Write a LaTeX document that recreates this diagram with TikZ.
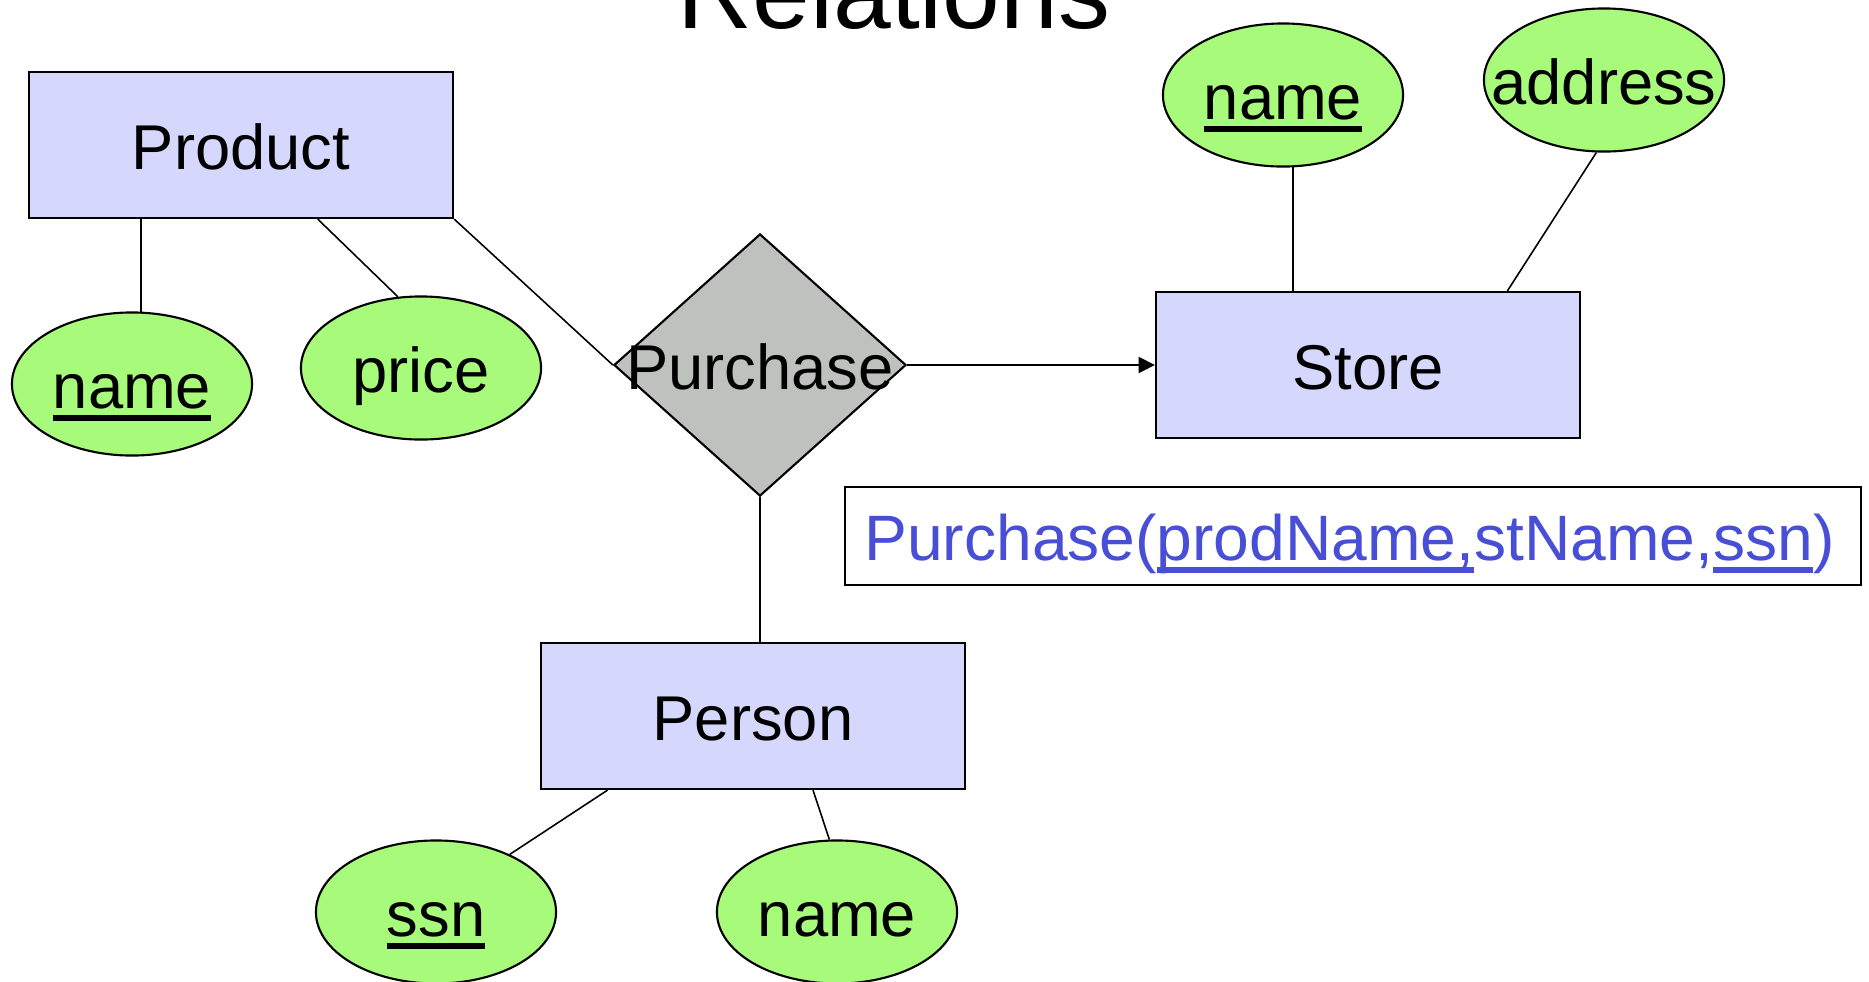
\documentclass[tikz,border=0pt]{standalone}
\usepackage{fontspec}
\setmainfont{Liberation Sans}
\usepackage{tikz}
\usetikzlibrary{shapes.geometric}
\usetikzlibrary{arrows.meta}
\definecolor{entfill}{RGB}{213,215,253}
\definecolor{attrfill}{RGB}{168,250,122}
\definecolor{relfill}{RGB}{191,193,191}
\definecolor{keyblue}{RGB}{72,78,214}
\newsavebox{\keybox}
\newcommand{\keyul}[1]{\sbox{\keybox}{#1}\rlap{\rule[-3.6pt]{\wd\keybox}{1.7pt}}\usebox{\keybox}}
\tikzset{
  big text/.style={font=\fontsize{18}{21}\selectfont,text height=14pt,text depth=0pt},
  entity node/.style={rectangle,draw,fill=entfill,line width=0.6pt,inner sep=0pt,
    minimum width=4.24cm,minimum height=1.46cm,big text},
  attr node/.style={ellipse,draw,fill=attrfill,line width=0.6pt,inner sep=0pt,
    minimum width=2.4cm,minimum height=1.43cm,big text},
  rel node/.style={diamond,draw,fill=relfill,line width=0.6pt,inner sep=0pt,
    minimum width=2.92cm,minimum height=2.62cm},
  schema/.style={rectangle,draw,fill=white,line width=0.6pt,inner sep=0pt,
    minimum width=10.16cm,minimum height=0.975cm,text=keyblue,big text,
    font=\fontsize{18.25}{21}\selectfont}
}
\begin{document}
\begin{tikzpicture}[x=0.01cm,y=-0.01cm,line width=0.45pt,
        >={Triangle[length=4.6pt,width=4.6pt]}]
  \useasboundingbox (0,0) rectangle (1869,981);
  \node[font=\fontsize{29.5}{34}\selectfont,anchor=base] (title) at (894,28) {Relations};
  % entities
  \node[entity node] (prod) at (241,145) {Product};
  \node[entity node] (store) at (1368,365) {Store};
  \node[entity node] (pers) at (753,716) {Person};
  % relationship
  \node[rel node] (buy) at (760,365) {};
  \node[big text] (buytext) at (buy.center) {Purchase};
  % attributes
  \node[attr node] (pname) at (132,384) {\keyul{name}};
  \node[attr node] (price) at (421,368) {price};
  \node[attr node] (sname) at (1283,95) {\keyul{name}};
  \node[attr node] (addr) at (1604,80) {\makebox[0pt]{address}};
  \node[attr node] (ssn) at (436,912) {\keyul{ssn}};
  \node[attr node] (hname) at (837,912) {name};
  \node[schema] (table) at (1353,536) {\hspace*{-2pt}Purchase(\keyul{prodName,}stName,\keyul{ssn})};
  % edges
  \draw (pname.83) -- (pname.83 |- prod.south);
  \draw (price.108) -- (prod.-44);
  \draw (prod.south east) -- (buy.west);
  \draw[->] (buy.east) -- (store.west);
  \draw (sname.-82) -- (sname.-82 |- store.north);
  \draw (addr.-96) -- (store.28);
  \draw (buy.south) -- (buy.south |- pers.north);
  \draw (pers.-153) -- (ssn.38);
  \draw (pers.-51) -- (hname.96);
\end{tikzpicture}
\end{document}
